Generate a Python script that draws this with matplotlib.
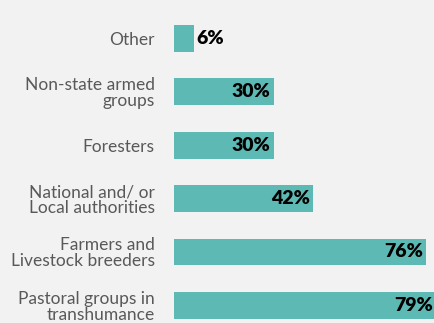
import matplotlib
matplotlib.use("Agg")
import matplotlib.pyplot as plt

categories = ["Other", "Non-state armed\ngroups", "Foresters",
              "National and/ or\nLocal authorities", "Farmers and\nLivestock breeders",
              "Pastoral groups in\ntranshumance"]
values = [6, 30, 30, 42, 76, 79]
value_labels = ["6%", "30%", "30%", "42%", "76%", "79%"]

bg = "#f2f2f2"
bar_color = "#5cb9b4"

fig = plt.figure(figsize=(4.34, 3.23), dpi=100, facecolor=bg)
ax = fig.add_axes([174/434, 0, 260/434, 1])
ax.set_facecolor(bg)

pos = list(range(len(categories)))
ax.barh(pos, values, height=0.5, color=bar_color)
ax.set_xlim(0, 260/3.32)
ax.set_ylim(5.33, -0.72)

for p, v, lab in zip(pos, values, value_labels):
    if v < 10:
        ax.text(v + 0.6, p, lab, ha="left", va="center", fontsize=14,
                fontweight="heavy", color="black", family="Lato", clip_on=False)
    else:
        ax.text(v - 0.9, p, lab, ha="right", va="center", fontsize=14,
                fontweight="heavy", color="black", family="Lato", clip_on=False)

ax.set_yticks(pos)
ax.set_yticklabels(categories, fontsize=12.5, color="#595959", family="Lato",
                   linespacing=1.0)
ax.tick_params(axis="y", length=0, pad=14)
ax.set_xticks([])
for s in ax.spines.values():
    s.set_visible(False)

fig.savefig("out.png", dpi=100, facecolor=bg)
